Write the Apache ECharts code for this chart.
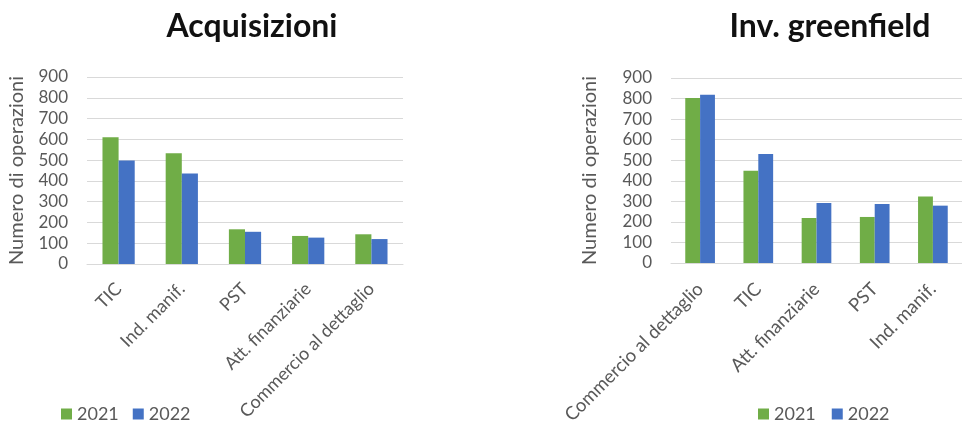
<!DOCTYPE html>
<html>
<head>
<meta charset="utf-8">
<script src="https://cdn.jsdelivr.net/npm/echarts@6/dist/echarts.min.js"></script>
<style>html,body{margin:0;padding:0;background:#fff;}#c{width:962px;height:430px;}</style>
</head>
<body>
<div id="c"></div>
<script>
const catsAcq = ['TIC', 'Ind. manif.', 'PST', 'Att. finanziarie', 'Commercio al dettaglio'];
const acq2021 = [610, 533, 167, 135, 143];
const acq2022 = [498, 436, 155, 127, 120];
const catsGreen = ['Commercio al dettaglio', 'TIC', 'Att. finanziarie', 'PST', 'Ind. manif.'];
const green2021 = [803, 449, 219, 224, 324];
const green2022 = [819, 530, 292, 287, 279];
const yTicks = [0, 100, 200, 300, 400, 500, 600, 700, 800, 900];
const titles = ['Acquisizioni', 'Inv. greenfield'];
const yName = 'Numero di operazioni';

const FONT = 'Lato, "Open Sans", sans-serif';
const GREEN = '#70AD47', BLUE = '#4472C4', GRAY = '#595959';

function xAx(i, cats, fs, m) {
  return {
    type: 'category', gridIndex: i, data: cats,
    axisLine: { lineStyle: { color: '#d9d9d9' } },
    axisTick: { show: false },
    axisLabel: { rotate: 45, color: GRAY, fontSize: fs, fontFamily: FONT, margin: m, interval: 0 }
  };
}
function yAx(i, gap) {
  return {
    type: 'value', gridIndex: i, min: 0, max: yTicks[yTicks.length - 1], interval: 100,
    name: yName, nameLocation: 'middle', nameGap: gap, nameRotate: 90,
    nameTextStyle: { color: GRAY, fontSize: 20, fontFamily: FONT },
    axisLine: { show: false }, axisTick: { show: false },
    axisLabel: { color: GRAY, fontSize: 17, fontFamily: FONT, margin: 19 },
    splitLine: { lineStyle: { color: '#d9d9d9' } }
  };
}
function bar(name, i, data, color) {
  return {
    name, type: 'bar', xAxisIndex: i, yAxisIndex: i, data,
    itemStyle: { color }, barGap: '0%', barCategoryGap: '49%'
  };
}

const chart = echarts.init(document.getElementById('c'), null, { renderer: 'canvas' });
chart.setOption({
  animation: false,
  title: [
    { text: titles[0], left: 247, textAlign: 'center', top: 6,
      textStyle: { fontSize: 32, fontWeight: 'bold', color: '#111', fontFamily: FONT } },
    { text: titles[1], left: 825, textAlign: 'center', top: 6,
      textStyle: { fontSize: 32, fontWeight: 'bold', color: '#111', fontFamily: FONT } }
  ],
  legend: [
    { data: ['2021', '2022'], left: 56, top: 400, icon: 'rect', itemWidth: 11, itemHeight: 11, itemGap: 14,
      textStyle: { color: GRAY, fontSize: 18, fontFamily: FONT } },
    { data: ['2021', '2022'], left: 753, top: 400, icon: 'rect', itemWidth: 11, itemHeight: 11, itemGap: 16,
      textStyle: { color: GRAY, fontSize: 18, fontFamily: FONT } }
  ],
  grid: [
    { left: 87, top: 77, width: 316, height: 187 },
    { left: 671, top: 78, width: 300, height: 185 }
  ],
  xAxis: [xAx(0, catsAcq, 18, 22), xAx(1, catsGreen, 18.5, 23)],
  yAxis: [yAx(0, 60), yAx(1, 71)],
  series: [
    bar('2021', 0, acq2021, GREEN),
    bar('2022', 0, acq2022, BLUE),
    bar('2021', 1, green2021, GREEN),
    bar('2022', 1, green2022, BLUE)
  ]
});
</script>
</body>
</html>
